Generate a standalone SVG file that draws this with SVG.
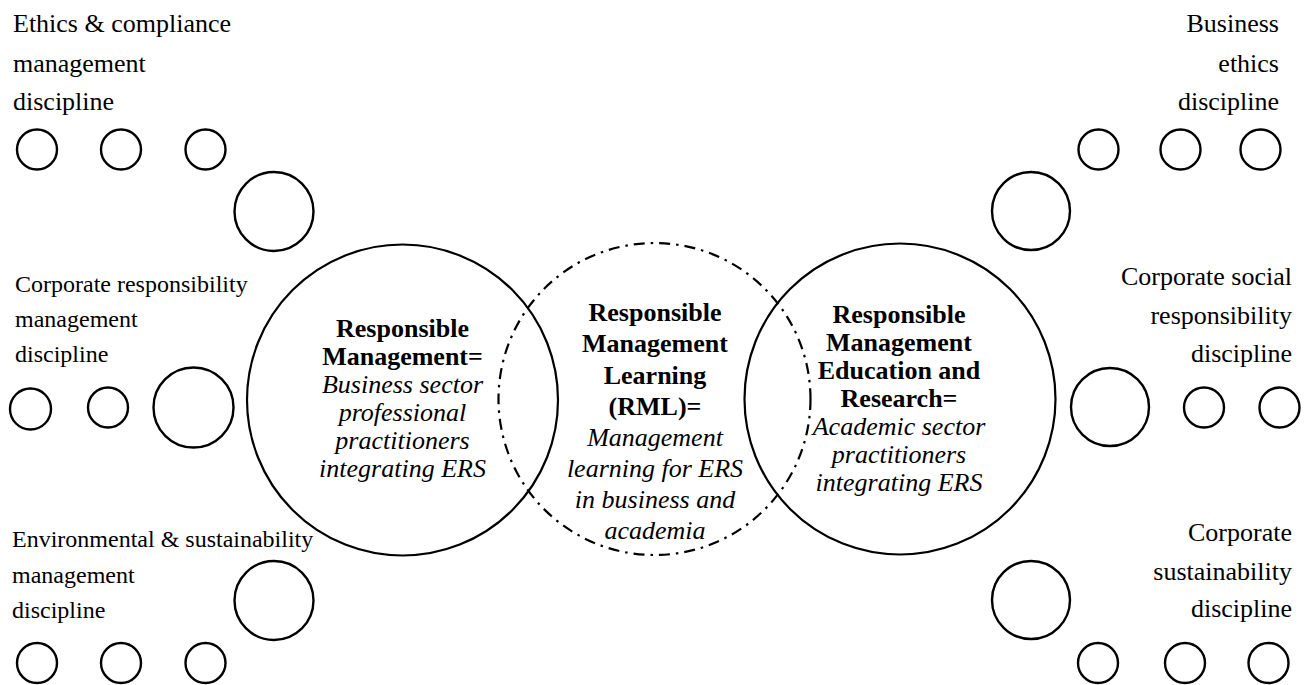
<svg xmlns="http://www.w3.org/2000/svg" width="1307" height="685" viewBox="0 0 1307 685">
<style>
  .bg { fill: #ffffff; }
  .c { fill: none; stroke: #000; stroke-width: 2.4; }
  .main { fill: none; stroke: #000; stroke-width: 2.2; }
  .dash { fill: none; stroke: #000; stroke-width: 2.2; stroke-dasharray: 11 6 2.5 6; }
  .lbl { font-family: "Liberation Serif", "Times New Roman", serif; fill: #000; }
  .s26 { font-size: 26px; }
  .s24 { font-size: 24px; }
  .end { text-anchor: end; }
  .mid { text-anchor: middle; font-size: 26px; }
  .b { font-weight: bold; }
  .i { font-style: italic; }
</style>
<rect class="bg" x="0" y="0" width="1307" height="685"/>

<g id="connectors"/>

<g id="ethics-compliance">
  <text class="lbl s26" x="13" y="32">Ethics &amp; compliance</text>
  <text class="lbl s26" x="13" y="72">management</text>
  <text class="lbl s26" x="13" y="110">discipline</text>
  <circle class="c" cx="37" cy="149.5" r="20"/>
  <circle class="c" cx="121" cy="149.5" r="20"/>
  <circle class="c" cx="205.5" cy="149.5" r="20"/>
  <circle class="c" cx="274" cy="211.5" r="39.5"/>
</g>

<g id="corporate-responsibility">
  <text class="lbl s24" x="15" y="292">Corporate responsibility</text>
  <text class="lbl s24" x="15" y="327">management</text>
  <text class="lbl s24" x="15" y="362">discipline</text>
  <circle class="c" cx="30.5" cy="409" r="20.5"/>
  <circle class="c" cx="108" cy="407.5" r="20"/>
  <circle class="c" cx="193.5" cy="407.5" r="40"/>
</g>

<g id="environmental-sustainability">
  <text class="lbl s24" x="12" y="547">Environmental &amp; sustainability</text>
  <text class="lbl s24" x="12" y="583">management</text>
  <text class="lbl s24" x="12" y="618">discipline</text>
  <circle class="c" cx="274" cy="600.5" r="39.5"/>
  <circle class="c" cx="37" cy="663" r="20"/>
  <circle class="c" cx="121" cy="663" r="20"/>
  <circle class="c" cx="205.5" cy="663" r="20"/>
</g>

<g id="business-ethics">
  <text class="lbl s26 end" x="1279" y="32">Business</text>
  <text class="lbl s26 end" x="1279" y="72">ethics</text>
  <text class="lbl s26 end" x="1279" y="110">discipline</text>
  <circle class="c" cx="1098.5" cy="149.5" r="20"/>
  <circle class="c" cx="1180.5" cy="149.5" r="20"/>
  <circle class="c" cx="1260.5" cy="149.5" r="20"/>
  <circle class="c" cx="1031" cy="211" r="39"/>
</g>

<g id="corporate-social-responsibility">
  <text class="lbl s26 end" x="1292" y="285">Corporate social</text>
  <text class="lbl s26 end" x="1292" y="324">responsibility</text>
  <text class="lbl s26 end" x="1292" y="362">discipline</text>
  <circle class="c" cx="1110" cy="407" r="39"/>
  <circle class="c" cx="1204" cy="407.5" r="20"/>
  <circle class="c" cx="1279.5" cy="407.5" r="20"/>
</g>

<g id="corporate-sustainability">
  <text class="lbl s26 end" x="1292" y="541">Corporate</text>
  <text class="lbl s26 end" x="1292" y="580">sustainability</text>
  <text class="lbl s26 end" x="1292" y="617">discipline</text>
  <circle class="c" cx="1031" cy="600" r="39"/>
  <circle class="c" cx="1098" cy="663" r="20"/>
  <circle class="c" cx="1185" cy="663" r="20"/>
  <circle class="c" cx="1268.5" cy="663" r="20"/>
</g>

<g id="responsible-management">
  <circle class="main" cx="402.5" cy="400" r="155.5"/>
  <text class="lbl mid b" x="402.5" y="337">Responsible</text>
  <text class="lbl mid b" x="402.5" y="365">Management=</text>
  <text class="lbl mid i" x="402.5" y="393">Business sector</text>
  <text class="lbl mid i" x="402.5" y="421">professional</text>
  <text class="lbl mid i" x="402.5" y="449">practitioners</text>
  <text class="lbl mid i" x="402.5" y="477">integrating ERS</text>
</g>

<g id="rml">
  <circle class="dash" cx="654.5" cy="399" r="156"/>
  <text class="lbl mid b" x="655" y="321">Responsible</text>
  <text class="lbl mid b" x="655" y="352">Management</text>
  <text class="lbl mid b" x="655" y="384">Learning</text>
  <text class="lbl mid b" x="655" y="415">(RML)=</text>
  <text class="lbl mid i" x="655" y="446">Management</text>
  <text class="lbl mid i" x="655" y="477">learning for ERS</text>
  <text class="lbl mid i" x="655" y="508">in business and</text>
  <text class="lbl mid i" x="655" y="539">academia</text>
</g>

<g id="rmer">
  <circle class="main" cx="900" cy="399" r="155.5"/>
  <text class="lbl mid b" x="899" y="323">Responsible</text>
  <text class="lbl mid b" x="899" y="351">Management</text>
  <text class="lbl mid b" x="899" y="379">Education and</text>
  <text class="lbl mid b" x="899" y="407">Research=</text>
  <text class="lbl mid i" x="899" y="435">Academic sector</text>
  <text class="lbl mid i" x="899" y="463">practitioners</text>
  <text class="lbl mid i" x="899" y="491">integrating ERS</text>
</g>
</svg>
